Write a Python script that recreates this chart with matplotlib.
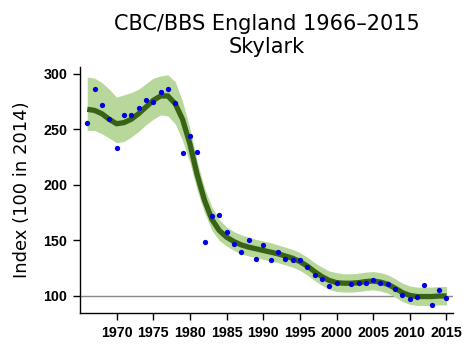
import matplotlib
matplotlib.use("Agg")
import matplotlib.pyplot as plt
import numpy as np

# Annual index values (points); no survey in 2001
point_years = [1966, 1967, 1968, 1969, 1970, 1971, 1972, 1973, 1974, 1975,
               1976, 1977, 1978, 1979, 1980, 1981, 1982, 1983, 1984, 1985,
               1986, 1987, 1988, 1989, 1990, 1991, 1992, 1993, 1994, 1995,
               1996, 1997, 1998, 1999, 2000, 2002, 2003, 2004, 2005, 2006,
               2007, 2008, 2009, 2010, 2011, 2012, 2013, 2014, 2015]
point_index = [256, 286, 272, 259, 233, 263, 263, 269, 276, 275,
               284, 286, 274, 229, 244, 230, 149, 172, 173, 158,
               147, 140, 150, 133, 146, 132, 140, 133, 132, 132,
               126, 119, 115, 109, 112, 111, 112, 112, 114, 112,
               111, 106, 101, 97, 99, 110, 92, 105, 98]

# Smoothed trend and confidence limits
trend_years = list(range(1966, 2016))
trend = [268, 267, 264, 259, 255, 256, 259, 264, 270, 276,
         280, 280, 273, 259, 237, 209, 186, 169, 159, 153,
         149, 146, 144, 142.5, 141, 139.5, 138, 136, 134, 131,
         127, 122, 117.5, 114, 112, 111.5, 111.5, 112, 113, 113.5,
         112.5, 110.5, 107, 103, 100.5, 99.5, 99.5, 99.5, 100, 100]
upper = [297, 296, 292, 286, 279, 281, 283, 286, 291, 296,
         298, 299, 293, 275, 251, 221, 197, 180, 169, 162,
         158, 155, 153, 151, 149.5, 148, 146, 144, 142, 139,
         135, 130, 126, 122.5, 121, 120, 120, 120.5, 121.5, 122,
         121, 119, 115.5, 111.5, 109, 108, 108, 108, 108.5, 108.5]
lower = [249, 249, 246, 242, 238, 239, 243, 248, 254, 259,
         263, 262, 255, 240, 220, 195, 175, 159, 150, 145,
         141, 138, 136, 134.5, 133, 131.5, 130, 128, 126, 123,
         119, 114, 109.5, 106, 104, 103.5, 103.5, 104, 105, 105.5,
         104.5, 102.5, 99, 95, 92.5, 91.5, 91.5, 91.5, 92, 92]

x_ticks = list(range(1970, 2016, 5))
y_ticks = [100, 150, 200, 250, 300]

fig = plt.figure(figsize=(4.7, 3.53), dpi=100)
ax = fig.add_axes([0.170, 0.113, 0.794, 0.697])

ax.axhline(100, color="#888888", linewidth=1.0, zorder=1)
ax.fill_between(trend_years, lower, upper, color="#b7d89a", linewidth=0, zorder=2)
ax.plot(trend_years, trend, color="#386216", linewidth=3.8, zorder=3,
        solid_capstyle="butt")
ax.plot(point_years, point_index, "o", color="#0000e0", markersize=3.8,
        markeredgewidth=0, zorder=4)

ax.set_xlim(1965.0, 2015.9)
ax.set_ylim(84.6, 306)
ax.set_xticks(x_ticks)
ax.set_yticks(y_ticks)

for side in ["top", "right"]:
    ax.spines[side].set_visible(False)
for side in ["left", "bottom"]:
    ax.spines[side].set_linewidth(1.0)

ax.tick_params(axis="both", direction="out", length=5, width=1.0, pad=4)
for lab in ax.get_xticklabels() + ax.get_yticklabels():
    lab.set_fontfamily("Liberation Sans")
    lab.set_fontweight("bold")
    lab.set_fontsize(10.3)

ax.set_ylabel("Index (100 in 2014)", fontsize=13, family="DejaVu Sans")
ax.yaxis.set_label_coords(-0.132, 0.5)
ax.set_title("CBC/BBS England 1966\u20132015\nSkylark", fontsize=15,
             family="DejaVu Sans", pad=10)

fig.savefig("out.png", dpi=100)
